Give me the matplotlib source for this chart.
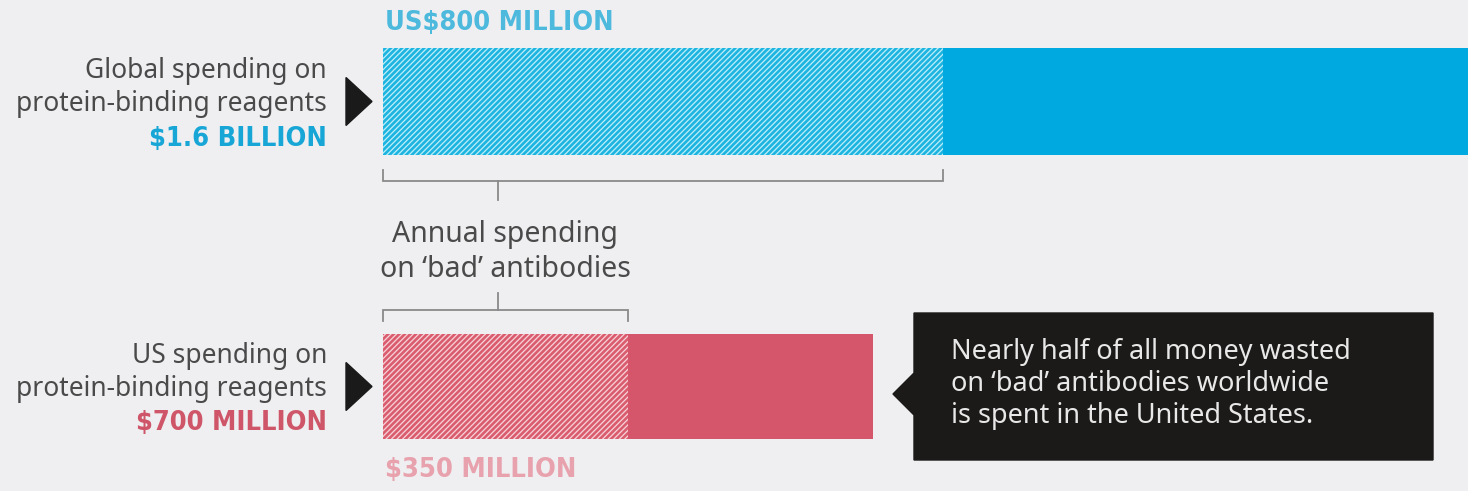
import matplotlib
matplotlib.use("Agg")
import matplotlib.pyplot as plt
from matplotlib.patches import Polygon
import matplotlib as mpl
from matplotlib import font_manager as fm

# ---- data (US$ millions) ----
categories = ["Global", "US"]
total_spend = [1600, 700]
bad_spend = [800, 350]
cat_labels = ["Global spending on\nprotein-binding reagents",
              "US spending on\nprotein-binding reagents"]
total_labels = ["$1.6 BILLION", "$700 MILLION"]
bad_labels = ["US$800 MILLION", "$350 MILLION"]
bracket_label = "Annual spending\non \u2018bad\u2019 antibodies"
callout_text = ("Nearly half of all money wasted\n"
                "on \u2018bad\u2019 antibodies worldwide\n"
                "is spent in the United States.")

# ---- style ----
BG = "#EFEFF2"
solid_cols = ["#00A9DF", "#D5566A"]
hatch_face = ["#BDEEFA", "#F8D3D9"]
hatch_cols = ["#1DB4E0", "#D95C6F"]
total_cols = ["#18A6D6", "#CF5669"]
bad_cols = ["#4DB9DD", "#E8A2AD"]
GREY = "#4a4a4a"

cond_names = [f.name for f in fm.fontManager.ttflist
              if "ondensed" in f.fname or "Narrow" in f.name]
cond = ["DejaVu Sans"]
for cand in ["Liberation Sans Narrow", "DejaVu Sans Condensed"]:
    if cand in cond_names:
        cond = [cand, "DejaVu Sans"]
        break
body = ["Noto Sans", "DejaVu Sans"]

W, H = 1468, 491
fig = plt.figure(figsize=(W / 100, H / 100), dpi=100)
fig.patch.set_facecolor(BG)
ax = fig.add_axes([0, 0, 1, 1])
ax.set_facecolor(BG)
ax.axis("off")

s = 0.70      # pixels per million
x0 = 383      # pixel where zero sits
ax.set_xlim(-x0 / s, (W - x0) / s)
ax.set_ylim(H, 0)

def xd(p):
    """pixel -> data x"""
    return (p - x0) / s

ycent = [101.5, 386.5]
bh = [107, 105]

mpl.rcParams["hatch.linewidth"] = 1.9

for i in range(2):
    ax.barh(ycent[i], total_spend[i], height=bh[i], left=0,
            color=solid_cols[i], edgecolor="none", zorder=1)
    ax.barh(ycent[i], bad_spend[i], height=bh[i], left=0,
            color=hatch_face[i], edgecolor=hatch_cols[i], hatch="//////",
            linewidth=0, zorder=2)

CS = 19.5
for i in range(2):
    ax.text(xd(327), ycent[i] - 14, cat_labels[i], ha="right", va="center",
            fontsize=19, color=GREY, family=body, linespacing=1.25)
    ax.text(xd(327), ycent[i] + 37, total_labels[i], ha="right", va="center",
            fontsize=CS, color=total_cols[i], family=cond, fontweight="bold",
            fontstretch="condensed")
    yc = ycent[i]
    tri = Polygon([(xd(346), yc - 24), (xd(372), yc), (xd(346), yc + 24)],
                  closed=True, color="#1a1a1a", zorder=3)
    ax.add_patch(tri)

ax.text(xd(385), 23, bad_labels[0], ha="left", va="center",
        fontsize=CS, color=bad_cols[0], family=cond, fontweight="bold",
        fontstretch="condensed")
ax.text(xd(385), 470, bad_labels[1], ha="left", va="center",
        fontsize=CS, color=bad_cols[1], family=cond, fontweight="bold",
        fontstretch="condensed")

bc = "#8a8a8a"
stem_x = xd(498)
ax.plot([0, 0, bad_spend[0], bad_spend[0]], [170, 181, 181, 170],
        color=bc, lw=1.3, solid_joinstyle="miter")
ax.plot([stem_x, stem_x], [181, 200], color=bc, lw=1.3)
ax.plot([0, 0, bad_spend[1], bad_spend[1]], [321, 310, 310, 321],
        color=bc, lw=1.3, solid_joinstyle="miter")
ax.plot([stem_x, stem_x], [293, 310], color=bc, lw=1.3)
ax.text(xd(505), 252, bracket_label, ha="center", va="center",
        fontsize=20.5, color=GREY, family=body, linespacing=1.25)

bx0, bx1, by0, by1 = 914, 1433, 313, 460
box = Polygon([(xd(bx0), by0), (xd(bx1), by0), (xd(bx1), by1), (xd(bx0), by1),
               (xd(bx0), 415), (xd(893), 394), (xd(bx0), 373)],
              closed=True, color="#1b1a18", zorder=3)
ax.add_patch(box)
ax.text(xd(951), 384, callout_text, ha="left", va="center",
        fontsize=19.5, color="#e8e8e8", family=body, linespacing=1.2, zorder=4)

fig.savefig("out.png", dpi=100, facecolor=BG)
